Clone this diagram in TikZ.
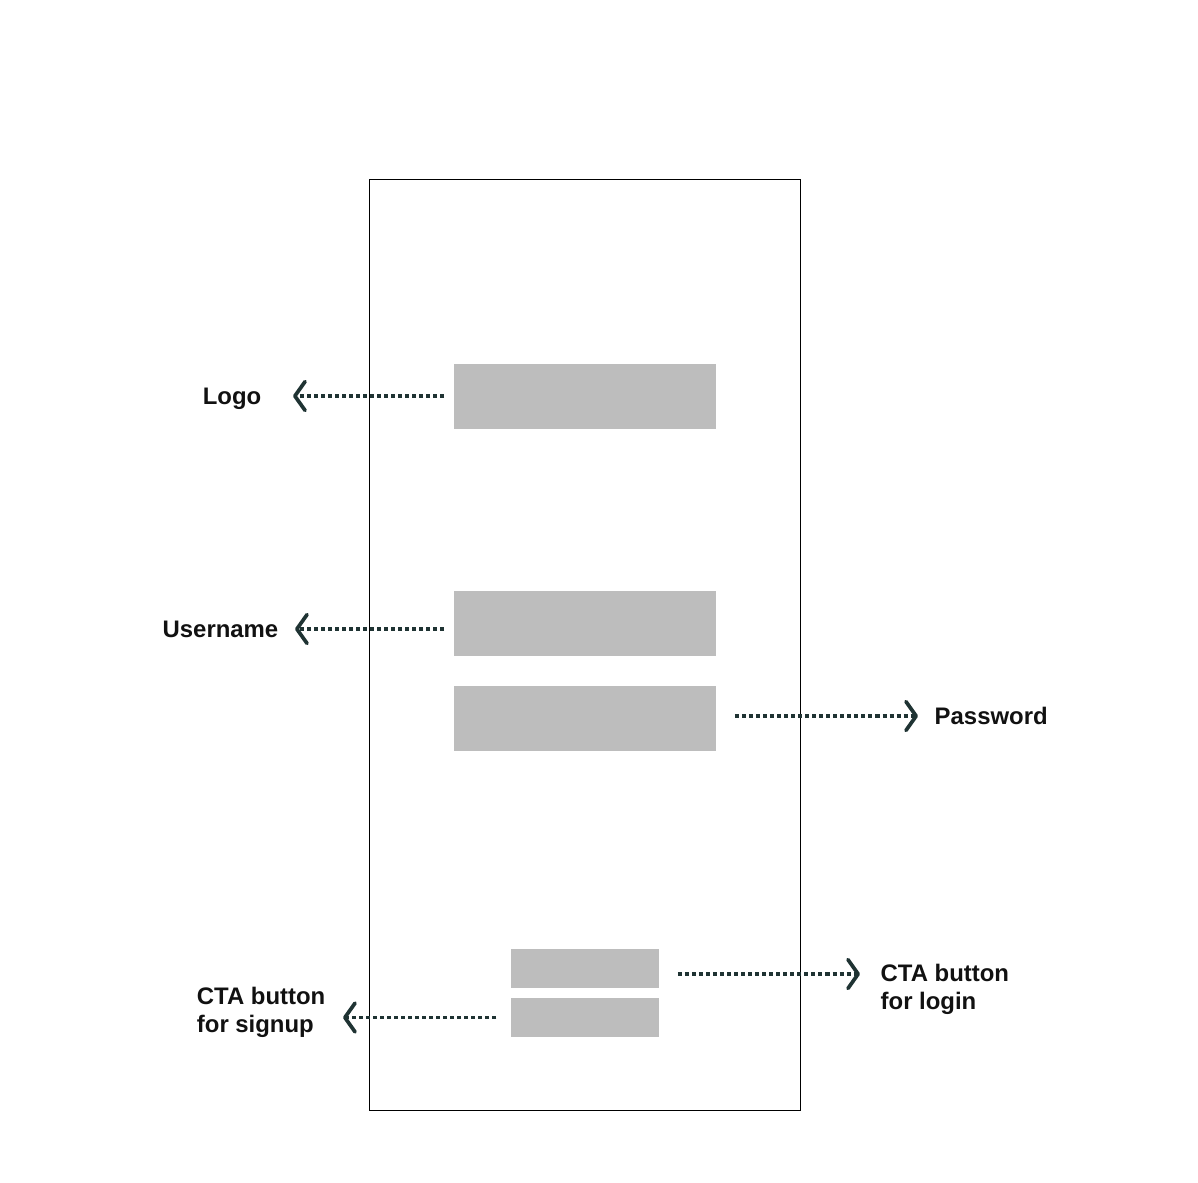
\documentclass[tikz,border=0pt]{standalone}
\usepackage{fontspec}
\setmainfont{Liberation Sans}
\usetikzlibrary{arrows.meta}
\definecolor{boxgray}{HTML}{BDBDBD}
\definecolor{arrowc}{HTML}{1F3333}
\definecolor{txt}{HTML}{111111}
\tikzset{
  block/.style={fill=boxgray,draw=none,inner sep=0pt,minimum width=2.62cm,minimum height=0.65cm},
  smallbtn/.style={fill=boxgray,draw=none,inner sep=0pt,minimum width=1.48cm,minimum height=0.39cm},
  lbl/.style={inner sep=0pt,text=txt,font=\bfseries\fontsize{6.8}{8}\selectfont,align=left},
  conn/.style={draw=arrowc,line width=1pt,dash pattern=on 1.15pt off 0.85pt,
    -{Straight Barb[length=2.9pt,width=8.2pt,line width=1.05pt,line cap=round,line join=round]}}
}
\begin{document}
\begin{tikzpicture}[x=0.01cm,y=-0.01cm]
\useasboundingbox (0,0) rectangle (1198,1182);
\node[draw=black,line width=0.35pt,inner sep=0pt,minimum width=4.30cm,minimum height=9.30cm] (frame) at (585,645) {};
\node[block] (logobox) at (585,396.5) {};
\node[block] (userbox) at (585,623.5) {};
\node[block] (pwbox) at (585,718.5) {};
\node[smallbtn] (loginbtn) at (585,968.5) {};
\node[smallbtn] (signupbtn) at (585,1017.5) {};
\node[lbl,anchor=east] (logolbl) at (262,399) {Logo};
\node[lbl,anchor=east] (userlbl) at (279,629) {Username};
\node[lbl,anchor=west] (pwlbl) at (934,716) {Password};
\node[lbl,anchor=west] (loginlbl) at (880,989) {CTA button\\for login};
\node[lbl,anchor=east] (signuplbl) at (326,1012) {CTA button\\for signup};
\draw[conn,shorten <=0.09cm,shorten >=0.31cm] (logobox.west |- 0,396) -- (logolbl.east |- 0,396);
\draw[conn,shorten <=0.09cm,shorten >=0.16cm] (userbox.west |- userlbl.east) -- (userlbl.east);
\draw[conn,shorten <=0.18cm,shorten >=0.16cm] (pwbox.east |- pwlbl.west) -- (pwlbl.west);
\draw[conn,shorten <=0.18cm,shorten >=0.20cm] ([yshift=-0.055cm]loginbtn.east) -- ([yshift=-0.055cm]loginbtn.east -| loginlbl.west);
\draw[conn,shorten <=0.14cm,shorten >=0.17cm] (signupbtn.west) -- (signupbtn.west -| signuplbl.east);
\end{tikzpicture}
\end{document}
